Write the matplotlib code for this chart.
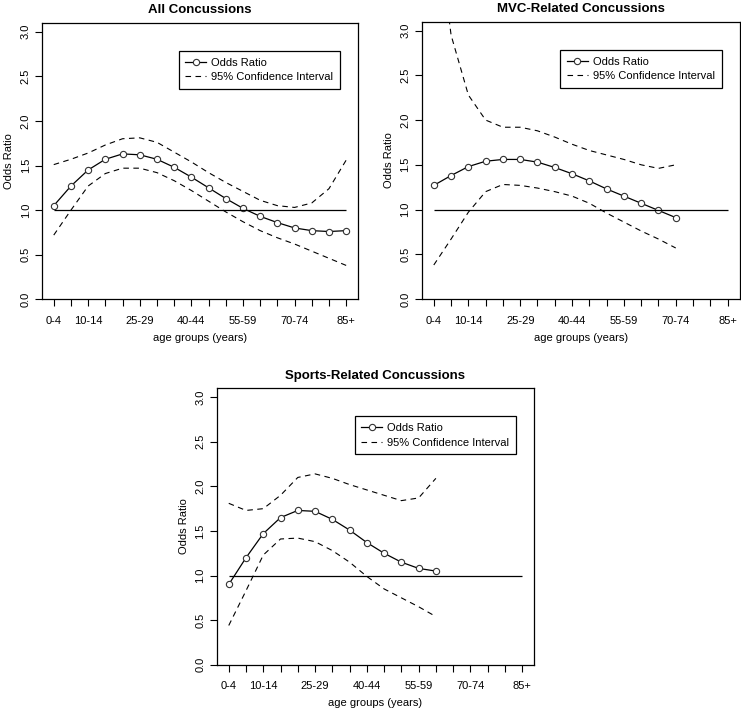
import numpy as np
import matplotlib
matplotlib.use("Agg")
import matplotlib.pyplot as plt

age_groups = ["0-4", "5-9", "10-14", "15-19", "20-24", "25-29", "30-34", "35-39",
              "40-44", "45-49", "50-54", "55-59", "60-64", "65-69", "70-74", "75-79",
              "80-84", "85+"]
shown_labels = ["0-4", "10-14", "25-29", "40-44", "55-59", "70-74", "85+"]

# All concussions
all_or = [1.05, 1.27, 1.45, 1.57, 1.63, 1.62, 1.57, 1.48, 1.37, 1.25, 1.13, 1.02,
          0.93, 0.86, 0.80, 0.77, 0.76, 0.77]
all_lo = [0.72, 1.00, 1.27, 1.41, 1.47, 1.47, 1.42, 1.33, 1.22, 1.10, 0.98, 0.87,
          0.77, 0.69, 0.62, 0.54, 0.46, 0.38]
all_hi = [1.51, 1.57, 1.64, 1.73, 1.80, 1.81, 1.76, 1.65, 1.54, 1.42, 1.31, 1.21,
          1.11, 1.05, 1.03, 1.08, 1.24, 1.56]

# MVC-related concussions (0-4 .. 70-74)
mvc_or = [1.27, 1.38, 1.48, 1.54, 1.56, 1.56, 1.53, 1.47, 1.40, 1.32, 1.23, 1.15,
          1.07, 0.99, 0.91]
mvc_lo = [0.38, 0.67, 0.97, 1.20, 1.28, 1.27, 1.24, 1.20, 1.15, 1.07, 0.96, 0.86,
          0.76, 0.67, 0.57]
mvc_hi = [4.50, 2.95, 2.28, 2.00, 1.92, 1.92, 1.88, 1.81, 1.73, 1.66, 1.61, 1.56,
          1.50, 1.46, 1.50]

# Sports-related concussions (0-4 .. 60-64)
spo_or = [0.90, 1.20, 1.47, 1.65, 1.73, 1.72, 1.63, 1.51, 1.37, 1.25, 1.15, 1.08, 1.05]
spo_lo = [0.44, 0.83, 1.23, 1.41, 1.42, 1.38, 1.28, 1.15, 0.99, 0.85, 0.75, 0.65, 0.54]
spo_hi = [1.81, 1.73, 1.75, 1.90, 2.10, 2.14, 2.09, 2.02, 1.96, 1.90, 1.84, 1.87, 2.09]

yticks = [0.0, 0.5, 1.0, 1.5, 2.0, 2.5, 3.0]

plt.rcParams.update({
    "font.family": ["Liberation Sans", "DejaVu Sans"],
    "font.size": 8,
    "axes.linewidth": 0.9,
    "xtick.major.width": 0.8,
    "ytick.major.width": 0.8,
})


def draw_panel(ax, title, odds, lower, upper):
    x = np.arange(len(odds))
    n = len(age_groups)
    ax.plot(x, odds, color="black", lw=0.9, marker="o", ms=4.5,
            mfc="white", mec="#333333", mew=0.8, label="Odds Ratio")
    ax.plot(x, lower, color="black", lw=0.8, ls=(0, (5, 4)),
            label="95% Confidence Interval")
    ax.plot(x, upper, color="black", lw=0.8, ls=(0, (5, 4)))
    ax.hlines(1.0, 0, n - 1, color="black", lw=0.9)

    ax.set_xlim(-0.7, n - 1 + 0.7)
    ax.set_ylim(0, 3.1)
    ax.set_xticks(np.arange(n))
    ax.set_xticklabels([a if a in shown_labels else "" for a in age_groups])
    ax.set_yticks(yticks)
    ax.set_yticklabels([f"{v:.1f}" for v in yticks], rotation=90, va="center")
    ax.tick_params(length=5, colors="black")
    ax.tick_params(axis="x", pad=7)
    ax.tick_params(axis="y", pad=3)

    ax.set_title(title, fontsize=9.5, fontweight="bold", pad=7)
    ax.set_xlabel("age groups (years)", labelpad=5)
    ax.set_ylabel("Odds Ratio", labelpad=5)

    leg = ax.legend(loc="upper right", bbox_to_anchor=(0.943, 0.898),
                    borderaxespad=0, fancybox=False, framealpha=1,
                    edgecolor="black", handlelength=1.9, handletextpad=0.45,
                    labelspacing=0.42, borderpad=0.6, fontsize=8)
    leg.get_frame().set_linewidth(0.9)


fig = plt.figure(figsize=(7.41, 7.11), dpi=100)
ax1 = fig.add_axes([0.0563, 0.5790, 0.4271, 0.3890])
ax2 = fig.add_axes([0.5691, 0.5795, 0.4291, 0.3900])
ax3 = fig.add_axes([0.2924, 0.0651, 0.4286, 0.3888])

draw_panel(ax1, "All Concussions", all_or, all_lo, all_hi)
draw_panel(ax2, "MVC-Related Concussions", mvc_or, mvc_lo, mvc_hi)
draw_panel(ax3, "Sports-Related Concussions", spo_or, spo_lo, spo_hi)

fig.savefig("out.png", dpi=100)
